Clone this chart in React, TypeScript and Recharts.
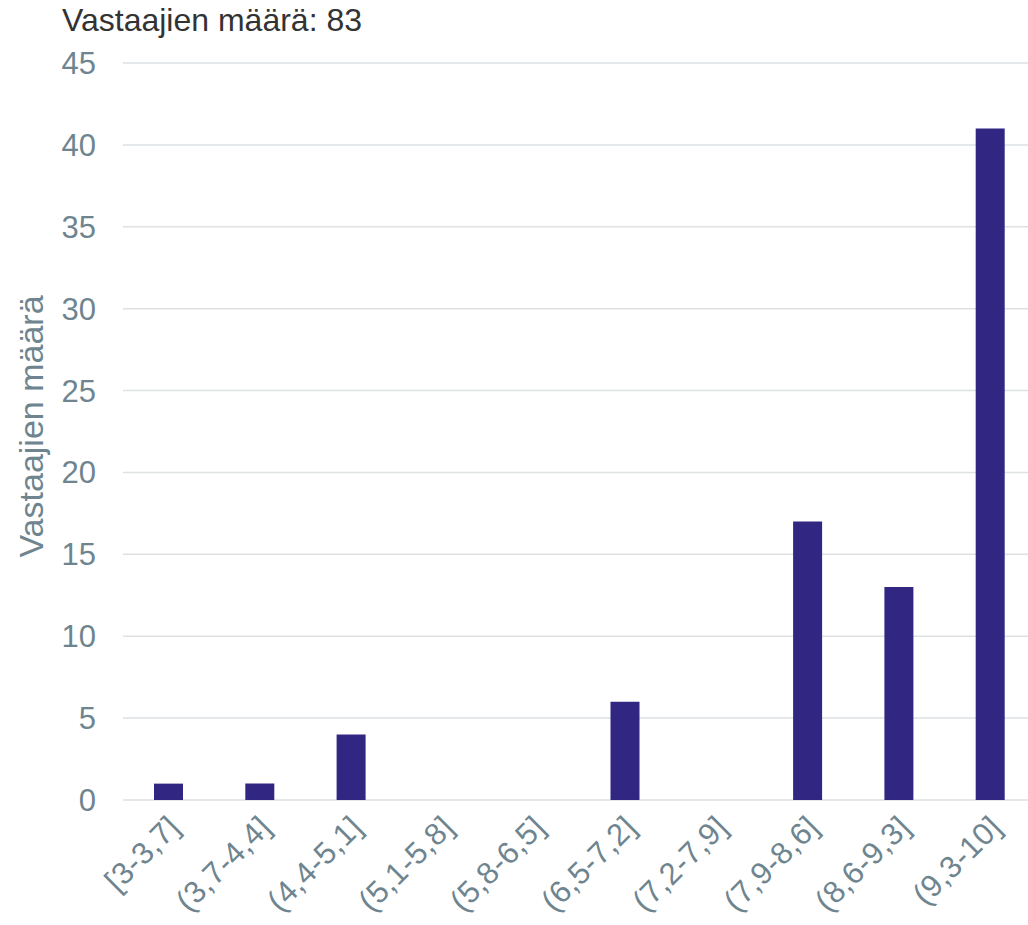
import { BarChart, Bar, XAxis, YAxis, CartesianGrid } from 'recharts'

const categories = [
  '[3-3,7]',
  '(3,7-4,4]',
  '(4,4-5,1]',
  '(5,1-5,8]',
  '(5,8-6,5]',
  '(6,5-7,2]',
  '(7,2-7,9]',
  '(7,9-8,6]',
  '(8,6-9,3]',
  '(9,3-10]',
]
const counts = [1, 1, 4, 0, 0, 6, 0, 17, 13, 41]
const yTicks = [0, 5, 10, 15, 20, 25, 30, 35, 40, 45]

const total = counts.reduce((a, b) => a + b, 0)
const data = categories.map((name, i) => ({ name, value: counts[i] }))

const FONT = '"Liberation Sans", Arial, sans-serif'
const TICK = '#6e858f'

function XTick({ x, y, payload }: any) {
  const tx = x + 13
  const ty = y + 21
  return (
    <text
      x={tx}
      y={ty}
      transform={`rotate(-45, ${tx}, ${ty})`}
      textAnchor='end'
      fill={TICK}
      fontSize={31}
      letterSpacing={0.4}
      fontFamily={FONT}
    >
      {payload.value}
    </text>
  )
}

export default function App() {
  return (
    <div
      style={{
        position: 'absolute',
        left: 0,
        top: 0,
        width: 1028,
        height: 925,
        overflow: 'hidden',
        background: '#fff',
        fontFamily: FONT,
      }}
    >
      <div
        style={{
          position: 'absolute',
          left: 62,
          top: 0,
          fontSize: 32,
          lineHeight: '40px',
          color: '#333',
          whiteSpace: 'nowrap',
        }}
      >
        Vastaajien määrä: {total}
      </div>
      <BarChart
        width={1040}
        height={925}
        data={data}
        margin={{ top: 63, right: 4, bottom: 0, left: 0 }}
        barCategoryGap={0}
      >
        <CartesianGrid vertical={false} stroke='#dde1e4' strokeWidth={1.5} />
        <XAxis
          dataKey='name'
          interval={0}
          height={125}
          tickLine={false}
          axisLine={false}
          tick={<XTick />}
        />
        <YAxis
          domain={[0, 45]}
          ticks={yTicks}
          interval={0}
          width={123}
          tickLine={false}
          axisLine={false}
          tickMargin={21}
          tick={{ fill: TICK, fontSize: 31, fontFamily: FONT }}
          label={{
            value: 'Vastaajien määrä',
            angle: -90,
            position: 'center',
            dx: -31,
            dy: -5,
            fill: TICK,
            fontSize: 34,
            fontFamily: FONT,
          }}
        />
        <Bar dataKey='value' fill='#312783' barSize={29} isAnimationActive={false} />
      </BarChart>
    </div>
  )
}
